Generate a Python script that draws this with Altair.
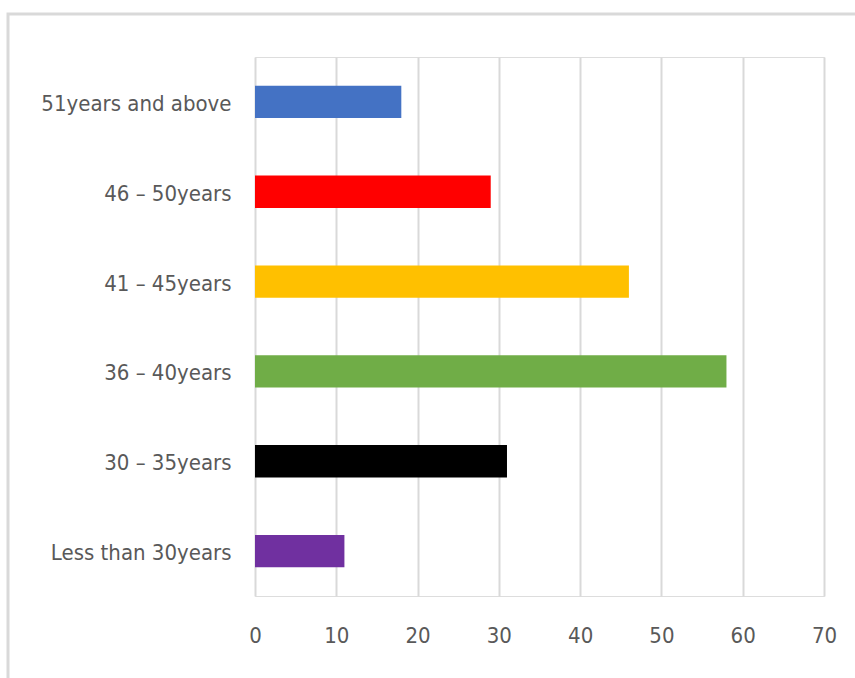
import altair as alt
import pandas as pd

categories = ["51years and above", "46 – 50years", "41 – 45years",
              "36 – 40years", "30 – 35years", "Less than 30years"]
values = [18, 29, 46, 58, 31, 11]
colors = ["#4472C4", "#FF0000", "#FFC000", "#70AD47", "#000000", "#7030A0"]

df = pd.DataFrame({"cat": categories, "val": values, "color": colors})

FONT = "DejaVu Sans Condensed, Roboto, sans-serif"

frame = alt.Chart(pd.DataFrame({"a": [0]})).mark_rect(
    fill=None, stroke="#d9d9d9", strokeWidth=3
).encode(
    x=alt.value(-247), x2=alt.value(640),
    y=alt.value(-43), y2=alt.value(700)
)

bars = alt.Chart(df).mark_bar().encode(
    y=alt.Y("cat:N", sort=categories, title=None,
            scale=alt.Scale(paddingInner=0.64, paddingOuter=0.32),
            axis=alt.Axis(labelFont=FONT, labelFontSize=22, labelColor="#595959",
                          labelPadding=24, labelOffset=2, ticks=False, domain=False,
                          grid=False, labelLimit=300)),
    x=alt.X("val:Q", title=None,
            scale=alt.Scale(domain=[0, 70], nice=False),
            axis=alt.Axis(values=list(range(0, 80, 10)), labelFont=FONT,
                          labelFontSize=22, labelColor="#595959", labelPadding=29,
                          labelFlush=False, ticks=False, domain=False, grid=True,
                          gridColor="#d9d9d9", gridWidth=2)),
    color=alt.Color("color:N", scale=None, legend=None),
)

chart = alt.layer(frame, bars).properties(
    width=569, height=539,
    autosize=alt.AutoSizeParams(type="none"),
    padding={"left": 255, "top": 57, "right": 31, "bottom": 82},
).configure_view(stroke=None).configure(background="white")

chart.save("out.html", embed_options={"renderer": "svg", "actions": False})
